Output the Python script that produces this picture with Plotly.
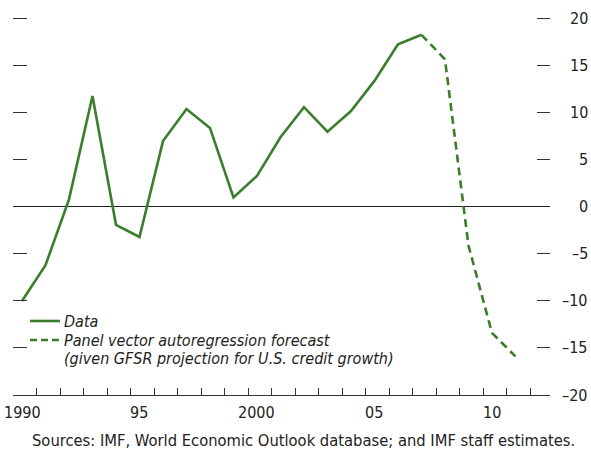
import plotly.graph_objects as go

# Annual series (percent)
data_years = list(range(1990, 2008))
data_values = [-10.0, -6.2, 0.8, 11.8, -1.9, -3.2, 7.0, 10.4, 8.4, 1.0,
               3.3, 7.4, 10.6, 8.0, 10.2, 13.4, 17.3, 18.3]

forecast_years = [2007, 2008, 2009, 2010, 2011]
forecast_values = [18.3, 15.7, -4.1, -13.4, -15.9]

y_ticks = [20, 15, 10, 5, 0, -5, -10, -15, -20]
y_tick_text = ["20", "15", "10", "5", "0", "–5", "–10", "–15", "–20"]

x_label_years = [1990, 1995, 2000, 2005, 2010]
x_label_text = ["1990", "95", "2000", "05", "10"]

data_name = "Data"
forecast_name = ["Panel vector autoregression forecast",
                 "(given GFSR projection for U.S. credit growth)"]

GREEN = "#3b7d2c"
INK = "#222"
FONT = "DejaVu Sans Condensed, Liberation Sans Narrow, Arial Narrow, sans-serif"
TICK_OFFSET = 0.38  # year ticks sit slightly left of each observation
Y_RANGE = [-20, 20.3]
X_RANGE = [1989.617, 2012.47]

# plot-area geometry in pixels (used to place the hand-built legend)
L, R, T, B = 13, 41, 16, 62
W, H = 591, 457
PW, PH = W - L - R, H - T - B


def px_x(px):
    return (px - L) / PW


def px_y(py):
    return (H - B - py) / PH


fig = go.Figure()
fig.add_trace(go.Scatter(
    x=data_years, y=data_values, mode="lines", name=data_name,
    line=dict(color=GREEN, width=2.6), showlegend=False,
))
fig.add_trace(go.Scatter(
    x=forecast_years, y=forecast_values, mode="lines", yaxis="y2",
    name=" ".join(forecast_name),
    line=dict(color=GREEN, width=2.6, dash="8px,5px"), showlegend=False,
))

tick_years = list(range(1990, 2013))
fig.update_xaxes(
    range=X_RANGE,
    tickmode="array",
    tickvals=[y - TICK_OFFSET for y in tick_years],
    showticklabels=False,
    ticks="inside", ticklen=7, tickcolor="#333", tickwidth=1,
    showline=True, linecolor="#333", linewidth=1,
    showgrid=False, zeroline=False,
)
edge_ticks = [v for v in y_ticks if v not in (0, -20)]
fig.update_yaxes(
    range=Y_RANGE,
    tickmode="array", tickvals=edge_ticks,
    showticklabels=False,
    ticks="inside", ticklen=14, tickcolor="#333", tickwidth=1,
    showline=False, showgrid=False,
    zeroline=True, zerolinecolor=INK, zerolinewidth=1,
)
fig.update_layout(yaxis2=dict(
    overlaying="y", side="right", anchor="x", range=Y_RANGE,
    tickmode="array", tickvals=edge_ticks,
    showticklabels=False, ticks="inside", ticklen=13, tickcolor="#333",
    tickwidth=1, showline=False, showgrid=False, zeroline=False,
))

# Value labels on the right, right-aligned
for v, t in zip(y_ticks, y_tick_text):
    fig.add_annotation(
        x=1.074, xref="paper", y=v, yref="y", text=t, showarrow=False,
        xanchor="right", yanchor="middle",
        font=dict(family=FONT, size=16, color=INK),
    )

# Year labels centred on the observations
for yr, t in zip(x_label_years, x_label_text):
    fig.add_annotation(
        x=yr, xref="x", y=px_y(412), yref="paper", text=t, showarrow=False,
        xanchor="center", yanchor="middle",
        font=dict(family=FONT, size=16, color=INK),
    )

# Legend
fig.add_shape(type="line", xref="paper", yref="paper",
              x0=px_x(30), x1=px_x(60), y0=px_y(321), y1=px_y(321),
              line=dict(color=GREEN, width=2.6))
fig.add_shape(type="line", xref="paper", yref="paper",
              x0=px_x(30), x1=px_x(60), y0=px_y(340), y1=px_y(340),
              line=dict(color=GREEN, width=2.6, dash="7px,4px"))
for text, py in [(data_name, 321), (forecast_name[0], 340), (forecast_name[1], 358)]:
    fig.add_annotation(
        x=px_x(62), xref="paper", y=px_y(py), yref="paper", text=text,
        showarrow=False, xanchor="left", yanchor="middle",
        font=dict(family=FONT, size=16, color=INK, style="italic"),
    )

fig.add_annotation(
    x=px_x(303), xref="paper", y=px_y(440), yref="paper",
    text="Sources: IMF, World Economic Outlook database; and IMF staff estimates.",
    showarrow=False, xanchor="center", yanchor="middle",
    font=dict(family=FONT, size=16.4, color=INK),
)

fig.update_layout(
    width=W, height=H,
    margin=dict(l=L, r=R, t=T, b=B),
    paper_bgcolor="white", plot_bgcolor="white",
    showlegend=False,
)

fig.write_html("out.html")
